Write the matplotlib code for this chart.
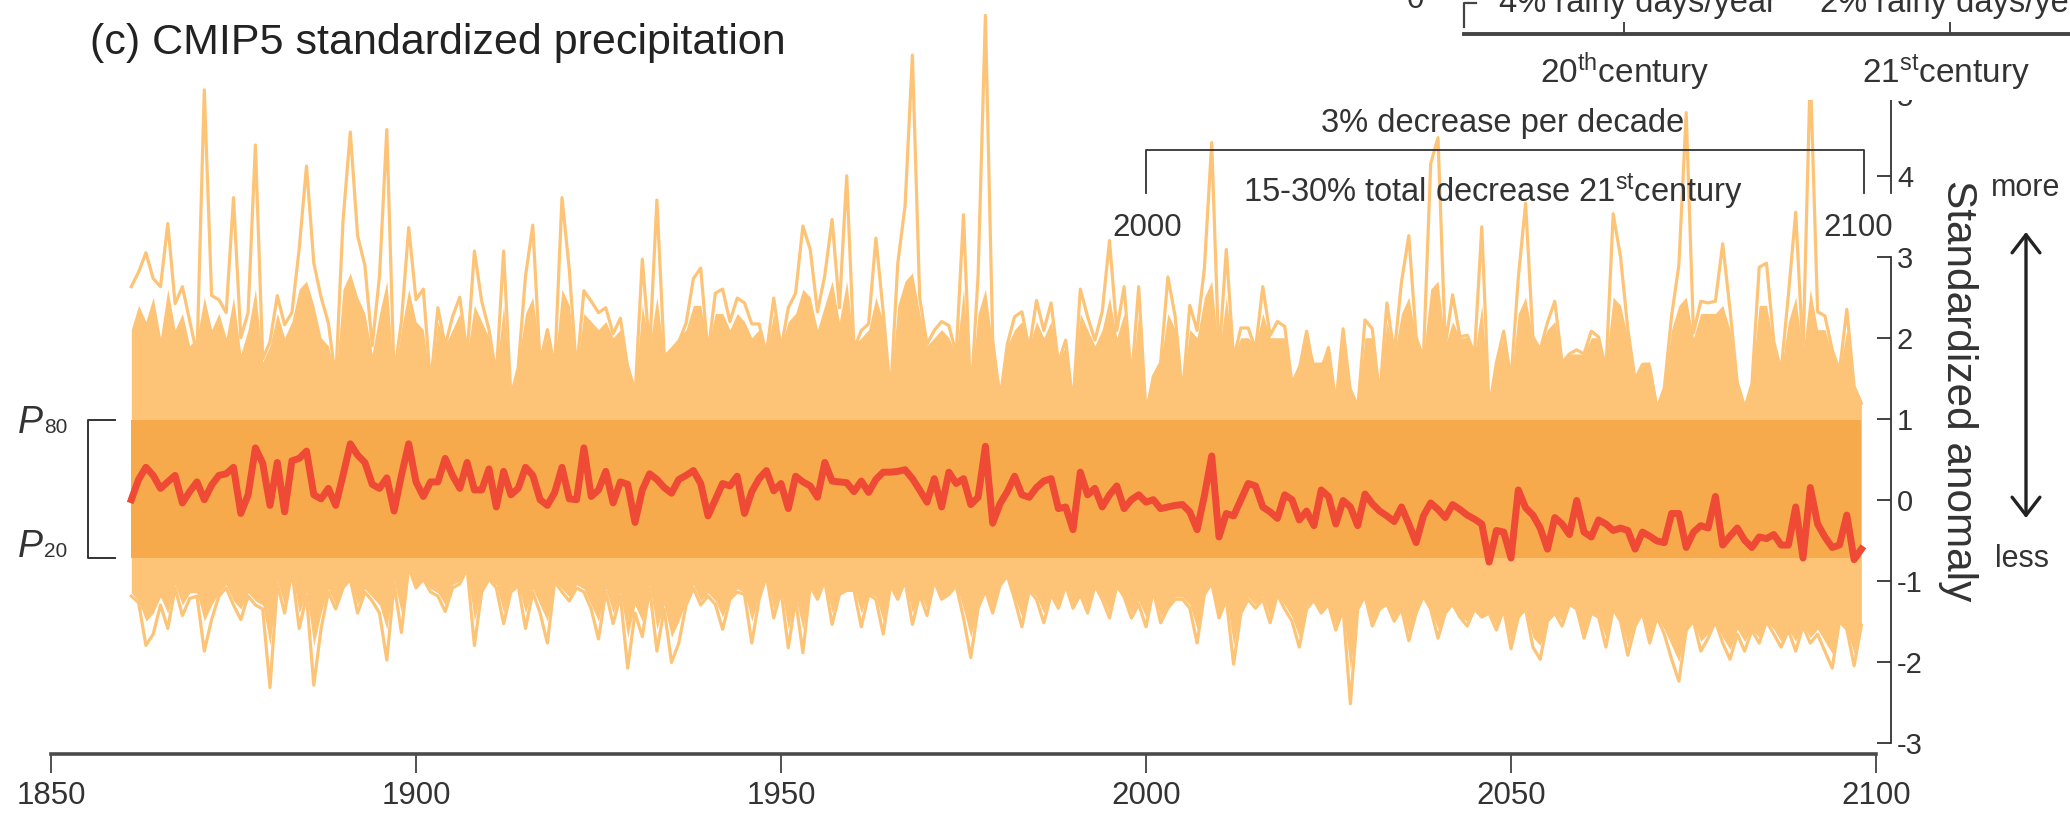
import matplotlib
matplotlib.use("Agg")
import matplotlib.pyplot as plt
import numpy as np
from matplotlib.patches import Rectangle, FancyArrowPatch
from matplotlib.lines import Line2D

plt.rcParams['font.family'] = 'Liberation Sans'
plt.rcParams['mathtext.fontset'] = 'custom'
plt.rcParams['mathtext.rm'] = 'Liberation Sans'
plt.rcParams['mathtext.it'] = 'Liberation Sans:italic'

# --- data (annual values, 1861-2098) ---
first_year = 1861

mean_anomaly = [
    0.00, 0.25, 0.40, 0.30, 0.14, 0.22, 0.30, -0.04, 0.10, 0.22,
    0.00, 0.18, 0.30, 0.32, 0.40, -0.17, 0.06, 0.64, 0.45, -0.07,
    0.46, -0.15, 0.48, 0.51, 0.60, 0.06, 0.01, 0.14, -0.07, 0.30,
    0.69, 0.55, 0.46, 0.19, 0.14, 0.27, -0.14, 0.30, 0.69, 0.22,
    0.04, 0.22, 0.22, 0.51, 0.30, 0.14, 0.46, 0.12, 0.12, 0.38,
    -0.09, 0.35, 0.06, 0.14, 0.40, 0.30, 0.00, -0.07, 0.09, 0.40,
    0.01, 0.00, 0.64, 0.04, 0.12, 0.35, -0.04, 0.22, 0.19, -0.28,
    0.12, 0.32, 0.25, 0.15, 0.08, 0.25, 0.30, 0.36, 0.20, -0.20,
    0.00, 0.20, 0.17, 0.29, -0.17, 0.10, 0.26, 0.36, 0.11, 0.20,
    -0.11, 0.29, 0.22, 0.17, 0.03, 0.46, 0.23, 0.22, 0.21, 0.10,
    0.23, 0.09, 0.25, 0.34, 0.34, 0.35, 0.37, 0.26, 0.12, -0.03,
    0.26, -0.09, 0.34, 0.20, 0.26, -0.06, 0.03, 0.66, -0.29, -0.05,
    0.10, 0.29, 0.06, 0.03, 0.15, 0.23, 0.26, -0.11, -0.09, -0.37,
    0.34, 0.06, 0.14, -0.09, 0.06, 0.17, -0.11, 0.00, 0.06, -0.03,
    0.00, -0.11, -0.09, -0.07, -0.06, -0.15, -0.37, 0.05, 0.54, -0.46,
    -0.17, -0.20, 0.00, 0.20, 0.17, -0.09, -0.15, -0.23, 0.06, 0.00,
    -0.25, -0.14, -0.32, 0.12, 0.04, -0.30, -0.01, -0.09, -0.32, 0.07,
    -0.05, -0.14, -0.20, -0.27, -0.09, -0.30, -0.53, -0.20, -0.04, -0.12,
    -0.22, -0.06, -0.12, -0.19, -0.24, -0.30, -0.77, -0.38, -0.40, -0.72,
    0.12, -0.10, -0.19, -0.35, -0.61, -0.22, -0.30, -0.43, -0.01, -0.40,
    -0.46, -0.25, -0.30, -0.38, -0.35, -0.38, -0.61, -0.40, -0.45, -0.51,
    -0.53, -0.17, -0.17, -0.59, -0.40, -0.32, -0.35, 0.04, -0.56, -0.45,
    -0.35, -0.50, -0.59, -0.46, -0.48, -0.43, -0.56, -0.56, -0.09, -0.72,
    0.15, -0.30, -0.46, -0.59, -0.56, -0.19, -0.74, -0.61,
]

# highest model value per year
upper_envelope = [
    2.63, 2.81, 3.05, 2.73, 2.63, 3.41, 2.42, 2.63, 2.21, 1.79,
    5.06, 2.52, 2.47, 2.31, 3.73, 2.00, 2.31, 4.38, 1.74, 1.95,
    2.52, 2.16, 2.31, 3.10, 4.12, 2.92, 2.50, 2.18, 1.48, 3.44,
    4.54, 3.26, 2.89, 1.90, 2.76, 4.57, 1.53, 2.20, 3.36, 2.47,
    2.60, 1.42, 2.37, 1.90, 2.26, 2.50, 1.79, 3.07, 2.45, 2.10,
    1.53, 3.07, 1.27, 1.63, 2.76, 3.39, 1.69, 2.10, 1.63, 3.73,
    2.84, 1.58, 2.58, 2.45, 2.31, 2.37, 2.05, 2.24, 1.63, 1.27,
    2.97, 1.84, 3.70, 1.79, 1.82, 1.95, 2.18, 2.73, 2.86, 1.80,
    2.55, 2.60, 2.20, 2.49, 2.43, 2.17, 2.17, 1.80, 2.49, 1.86,
    2.37, 2.55, 3.38, 3.09, 2.32, 2.77, 3.46, 2.37, 4.00, 1.86,
    2.09, 2.17, 3.23, 2.32, 1.29, 2.92, 3.63, 5.49, 2.49, 1.92,
    2.09, 2.20, 2.15, 1.80, 3.52, 1.23, 2.77, 5.98, 1.97, 1.23,
    1.92, 2.26, 2.32, 1.86, 2.46, 2.09, 2.43, 1.69, 1.97, 1.17,
    2.60, 2.26, 1.97, 2.32, 3.20, 2.09, 2.63, 1.46, 2.63, 1.06,
    1.52, 1.69, 2.75, 2.26, 1.29, 2.40, 2.09, 2.86, 4.41, 1.74,
    3.09, 1.74, 2.12, 2.12, 1.86, 2.63, 2.03, 2.20, 2.14, 1.43,
    1.61, 2.08, 1.59, 1.59, 1.88, 1.17, 2.11, 1.33, 1.12, 2.22,
    2.11, 1.27, 2.43, 1.80, 2.69, 3.26, 2.01, 1.74, 4.15, 4.47,
    1.90, 2.53, 2.01, 2.03, 1.80, 3.37, 1.12, 1.69, 2.08, 1.48,
    2.74, 3.66, 2.01, 1.85, 2.19, 2.45, 1.69, 1.80, 1.85, 1.80,
    2.08, 2.01, 1.59, 3.53, 3.00, 2.11, 1.48, 1.67, 1.64, 1.12,
    1.38, 2.27, 2.90, 4.78, 2.06, 2.45, 2.43, 2.45, 3.16, 2.35,
    1.43, 1.12, 1.43, 2.87, 2.92, 1.95, 1.59, 2.53, 3.55, 1.80,
    5.30, 2.32, 2.27, 1.85, 1.59, 2.35, 1.40, 1.19,
]

# lowest model value per year
lower_envelope = [
    -1.19, -1.27, -1.80, -1.66, -1.30, -1.59, -1.09, -1.43, -1.22, -1.19,
    -1.87, -1.48, -1.19, -1.09, -1.30, -1.48, -1.19, -1.30, -1.35, -2.32,
    -1.04, -1.40, -0.88, -1.59, -1.19, -2.29, -1.59, -1.14, -1.35, -1.09,
    -0.98, -1.40, -1.14, -1.25, -1.40, -1.98, -1.04, -1.64, -0.83, -1.09,
    -0.98, -1.14, -1.19, -1.38, -1.09, -1.04, -0.85, -1.80, -1.14, -0.98,
    -1.09, -1.53, -1.14, -1.06, -1.59, -1.14, -1.40, -1.77, -1.01, -1.14,
    -1.25, -1.09, -1.14, -1.35, -1.72, -1.14, -1.53, -1.19, -2.08, -1.40,
    -1.69, -1.09, -1.87, -1.35, -2.01, -1.77, -1.30, -1.09, -1.30, -1.19,
    -1.29, -1.60, -1.23, -1.14, -1.17, -1.77, -1.23, -0.94, -1.46, -1.12,
    -1.83, -1.23, -1.89, -1.06, -1.23, -1.00, -1.54, -1.17, -1.12, -1.12,
    -1.57, -1.17, -1.23, -1.66, -1.06, -1.23, -1.00, -1.54, -1.17, -1.43,
    -1.00, -1.23, -1.17, -1.06, -1.46, -1.95, -1.34, -1.12, -1.40, -1.06,
    -0.94, -1.23, -1.57, -1.12, -1.23, -1.52, -1.17, -1.34, -1.06, -1.34,
    -1.17, -1.40, -1.06, -1.23, -1.46, -1.06, -1.20, -1.46, -1.29, -1.57,
    -1.12, -1.52, -1.34, -1.23, -1.23, -1.34, -1.77, -1.17, -1.03, -1.46,
    -1.23, -2.03, -1.40, -1.23, -1.34, -1.23, -1.52, -1.17, -1.35, -1.50,
    -1.82, -1.35, -1.24, -1.40, -1.29, -1.61, -1.35, -2.52, -1.35, -1.19,
    -1.56, -1.35, -1.29, -1.50, -1.35, -1.74, -1.40, -1.19, -1.35, -1.71,
    -1.40, -1.29, -1.45, -1.56, -1.35, -1.45, -1.40, -1.61, -1.35, -1.84,
    -1.45, -1.35, -1.82, -1.97, -1.50, -1.40, -1.56, -1.29, -1.35, -1.71,
    -1.40, -1.45, -1.82, -1.35, -1.50, -1.92, -1.56, -1.40, -1.77, -1.45,
    -1.66, -1.97, -2.24, -1.61, -1.50, -1.87, -1.71, -1.50, -1.77, -1.97,
    -1.66, -1.87, -1.61, -1.77, -1.50, -1.66, -1.82, -1.61, -1.87, -1.56,
    -1.77, -1.66, -1.87, -2.08, -1.50, -1.60, -2.05, -1.55,
]

# edges of the densely overlapping part of the model spread
core_upper = [
    2.1, 2.4, 2.2, 2.5, 2.0, 2.6, 2.1, 2.3, 1.9, 2.0,
    2.5, 2.1, 2.3, 2.0, 2.5, 1.8, 2.1, 2.6, 1.7, 1.9,
    2.3, 2.0, 2.2, 2.6, 2.7, 2.4, 2.0, 1.9, 1.5, 2.6,
    2.8, 2.5, 2.3, 1.8, 2.3, 2.7, 1.5, 2.1, 2.6, 2.2,
    2.1, 1.4, 2.2, 1.9, 2.1, 2.3, 1.8, 2.4, 2.2, 2.0,
    1.6, 2.4, 1.3, 1.7, 2.3, 2.5, 1.8, 2.0, 1.7, 2.6,
    2.4, 1.6, 2.3, 2.2, 2.1, 2.2, 2.0, 2.1, 1.7, 1.4,
    2.4, 1.9, 2.5, 1.8, 1.9, 2.0, 2.1, 2.4, 2.4, 1.9,
    2.3, 2.3, 2.1, 2.3, 2.2, 2.0, 2.1, 1.8, 2.3, 1.9,
    2.2, 2.3, 2.6, 2.5, 2.1, 2.4, 2.7, 2.2, 2.7, 1.9,
    2.0, 2.1, 2.5, 2.2, 1.4, 2.4, 2.7, 2.8, 2.3, 1.9,
    2.0, 2.1, 2.0, 1.8, 2.6, 1.4, 2.3, 2.6, 1.9, 1.4,
    1.9, 2.1, 2.2, 1.9, 2.2, 2.0, 2.2, 1.7, 1.9, 1.3,
    2.3, 2.1, 1.9, 2.1, 2.5, 2.0, 2.3, 1.5, 2.3, 1.2,
    1.5, 1.7, 2.3, 2.1, 1.4, 2.1, 2.0, 2.5, 2.7, 1.8,
    2.5, 1.8, 2.0, 2.0, 1.9, 2.3, 2.0, 2.0, 2.0, 1.5,
    1.7, 2.0, 1.7, 1.7, 1.9, 1.3, 2.0, 1.4, 1.2, 2.0,
    2.0, 1.4, 2.2, 1.8, 2.3, 2.5, 2.0, 1.8, 2.6, 2.7,
    1.9, 2.2, 2.0, 2.0, 1.8, 2.4, 1.2, 1.7, 2.0, 1.5,
    2.3, 2.5, 2.0, 1.9, 2.1, 2.2, 1.7, 1.8, 1.8, 1.8,
    2.0, 2.0, 1.7, 2.5, 2.4, 2.0, 1.5, 1.7, 1.7, 1.2,
    1.4, 2.1, 2.4, 2.5, 2.0, 2.3, 2.3, 2.3, 2.4, 2.1,
    1.5, 1.2, 1.5, 2.4, 2.4, 1.9, 1.6, 2.2, 2.5, 1.8,
    2.6, 2.1, 2.1, 1.8, 1.6, 2.1, 1.4, 1.2,
]

core_lower = [
    -1.15, -1.25, -1.5, -1.4, -1.2, -1.4, -1.05, -1.3, -1.15, -1.15,
    -1.5, -1.3, -1.15, -1.05, -1.25, -1.35, -1.15, -1.25, -1.3, -1.8,
    -1.0, -1.3, -0.88, -1.4, -1.15, -1.8, -1.4, -1.1, -1.3, -1.05,
    -0.98, -1.3, -1.1, -1.2, -1.3, -1.6, -1.0, -1.4, -0.83, -1.05,
    -0.98, -1.1, -1.15, -1.3, -1.05, -1.0, -0.85, -1.5, -1.1, -0.98,
    -1.05, -1.4, -1.1, -1.05, -1.4, -1.1, -1.3, -1.5, -1.0, -1.1,
    -1.2, -1.05, -1.1, -1.3, -1.5, -1.1, -1.4, -1.15, -1.7, -1.3,
    -1.5, -1.05, -1.6, -1.3, -1.7, -1.5, -1.25, -1.05, -1.25, -1.15,
    -1.25, -1.45, -1.2, -1.1, -1.15, -1.5, -1.2, -0.94, -1.35, -1.1,
    -1.6, -1.2, -1.6, -1.05, -1.2, -1.0, -1.4, -1.15, -1.1, -1.1,
    -1.4, -1.15, -1.2, -1.5, -1.05, -1.2, -1.0, -1.4, -1.15, -1.35,
    -1.0, -1.2, -1.15, -1.05, -1.35, -1.7, -1.3, -1.1, -1.35, -1.05,
    -0.94, -1.2, -1.45, -1.1, -1.2, -1.4, -1.15, -1.3, -1.05, -1.3,
    -1.15, -1.35, -1.06, -1.2, -1.4, -1.06, -1.2, -1.4, -1.25, -1.45,
    -1.1, -1.45, -1.3, -1.2, -1.2, -1.3, -1.6, -1.15, -1.03, -1.4,
    -1.2, -1.8, -1.35, -1.2, -1.3, -1.2, -1.45, -1.17, -1.3, -1.45,
    -1.7, -1.3, -1.24, -1.4, -1.29, -1.55, -1.35, -2.1, -1.35, -1.19,
    -1.5, -1.35, -1.29, -1.45, -1.35, -1.65, -1.4, -1.19, -1.35, -1.6,
    -1.4, -1.29, -1.45, -1.5, -1.35, -1.45, -1.4, -1.55, -1.35, -1.75,
    -1.45, -1.35, -1.7, -1.8, -1.5, -1.4, -1.5, -1.29, -1.35, -1.65,
    -1.4, -1.45, -1.7, -1.35, -1.5, -1.8, -1.5, -1.4, -1.7, -1.45,
    -1.6, -1.8, -2.0, -1.6, -1.5, -1.75, -1.65, -1.5, -1.7, -1.85,
    -1.6, -1.75, -1.6, -1.7, -1.5, -1.6, -1.75, -1.6, -1.75, -1.55,
    -1.7, -1.6, -1.75, -1.9, -1.5, -1.6, -1.9, -1.55,
]

p80 = 0.98
p20 = -0.72
x_ticks = [1850, 1900, 1950, 2000, 2050, 2100]
y_ticks = [-3, -2, -1, 0, 1, 2, 3, 4, 5]

years = np.arange(first_year, first_year + len(mean_anomaly))

# colours
spag_col = '#FDC477'
band_col = '#F7AA4B'
mean_col = '#EE4A35'
ink = '#333333'

W, H = 2070, 814
fig = plt.figure(figsize=(W / 100, H / 100), dpi=100)


def fx(px):
    return px / W


def fy(py):
    return 1 - py / H


ax = fig.add_axes([fx(51), fy(754), fx(1876) - fx(51), fy(0) - fy(754)])
ax.set_xlim(1850, 2100)
ax.set_ylim(-3.14, 6.17)

# spaghetti of model runs
ax.fill_between(years, core_lower, core_upper, color=spag_col, lw=0, zorder=1)
ax.plot(years, upper_envelope, color=spag_col, lw=2.3, zorder=2)
ax.plot(years, lower_envelope, color=spag_col, lw=2.3, zorder=2)

# P20-P80 band and multi-model mean
ax.fill_between(years, p20, p80, color=band_col, lw=0, zorder=3)
ax.plot(years, mean_anomaly, color=mean_col, lw=5, solid_joinstyle='round', zorder=4)

# axes styling
for side in ['left', 'top']:
    ax.spines[side].set_visible(False)
ax.spines['bottom'].set_bounds(1850, 2100)
ax.spines['bottom'].set_color('#4a4a4a')
ax.spines['bottom'].set_linewidth(2.6)
ax.spines['right'].set_position(('data', 2102.1))
ax.spines['right'].set_bounds(-3, 3)
ax.spines['right'].set_color(ink)
ax.spines['right'].set_linewidth(1.3)
ax.plot([2102.1, 2102.1], [3.79, 5.6], color=ink, lw=1.3, clip_on=False, zorder=5)

ax.set_xticks(x_ticks)
ax.set_xticklabels([str(t) for t in x_ticks])
ax.tick_params(axis='x', direction='out', length=13.5, width=1.2, color=ink,
               pad=6, labelsize=22.5, labelcolor=ink)
ax.yaxis.tick_right()
ax.set_yticks(y_ticks)
ax.set_yticklabels([str(t) for t in y_ticks])
ax.tick_params(axis='y', direction='in', length=10, width=1.3, color=ink,
               pad=4, labelsize=21, labelcolor=ink)

# P80 / P20 bracket
ax.plot([1858.8, 1855.1, 1855.1, 1858.8], [p80, p80, p20, p20], color=ink,
        lw=1.4, clip_on=False)
fig.text(fx(18), fy(433), 'P', fontsize=27, style='italic', color=ink, va='baseline')
fig.text(fx(44), fy(433), '80', fontsize=15, color=ink, va='baseline')
fig.text(fx(18), fy(557), 'P', fontsize=27, style='italic', color=ink, va='baseline')
fig.text(fx(44), fy(557), '20', fontsize=15, color=ink, va='baseline')

# 21st century trend annotation
ax.plot([2000, 2000, 2098.4, 2098.4], [3.79, 4.32, 4.32, 3.79], color=ink, lw=1.3,
        clip_on=False, zorder=5)
ax.text(2048.9, 4.54, '3% decrease per decade', fontsize=23.5, color=ink,
        ha='center', va='baseline', zorder=6)
ax.text(2047.5, 3.67, r'15-30% total decrease 21$^{\rm st}$century', fontsize=23.5,
        color=ink, ha='center', va='baseline', zorder=6)
ax.text(2000.2, 3.25, '2000', fontsize=22.5, color=ink, ha='center', va='baseline', zorder=6)
ax.text(2097.5, 3.25, '2100', fontsize=22.5, color=ink, ha='center', va='baseline', zorder=6)

# title
fig.text(fx(90), fy(54), '(c) CMIP5 standardized precipitation', fontsize=31,
         color='#222222', va='baseline')

# right-hand labels
fig.text(fx(1958), fy(391), 'Standardized anomaly', fontsize=30.5, color=ink,
         rotation=-90, ha='center', va='center')
fig.text(fx(2026), fy(196), 'more', fontsize=22, color=ink, ha='center', va='baseline')
fig.text(fx(2022), fy(567), 'less', fontsize=22, color=ink, ha='center', va='baseline')
arrow = FancyArrowPatch((fx(2026), fy(518)), (fx(2026), fy(232)),
                        transform=fig.transFigure,
                        arrowstyle='<->,head_length=13,head_width=10',
                        mutation_scale=1, lw=2.4, color='#222222',
                        shrinkA=0, shrinkB=0)
fig.patches.append(arrow)

# cropped piece of the panel above (white box on top of the axes)
fig.patches.append(Rectangle((fx(1380), fy(100)), fx(2070) - fx(1380), fy(0) - fy(100),
                             transform=fig.transFigure, facecolor='white',
                             edgecolor='none', zorder=5))


def fig_line(xs, ys, lw):
    fig.lines.append(Line2D([fx(v) for v in xs], [fy(v) for v in ys],
                            transform=fig.transFigure, color='#444444', lw=lw,
                            zorder=6))


fig_line([1476, 1464, 1464], [3, 3, 27], 1.6)
fig_line([1464, 2070], [34, 34], 2.8)
fig_line([1624, 1624], [23, 34], 1.4)
fig_line([1950, 1950], [23, 34], 1.4)
fig.text(fx(1415), fy(8), '0', fontsize=22.5, color=ink, ha='center', va='baseline', zorder=7)
fig.text(fx(1499), fy(12), '4% rainy days/year', fontsize=23.5, color=ink,
         va='baseline', zorder=7)
fig.text(fx(1820), fy(12), '2% rainy days/year', fontsize=23.5, color=ink,
         va='baseline', zorder=7)
fig.text(fx(1540), fy(83), r'20$^{\rm th}$century', fontsize=24, color=ink,
         va='baseline', zorder=7)
fig.text(fx(1862), fy(83), r'21$^{\rm st}$century', fontsize=24, color=ink,
         va='baseline', zorder=7)

fig.savefig('out.png', dpi=100, facecolor='white')
